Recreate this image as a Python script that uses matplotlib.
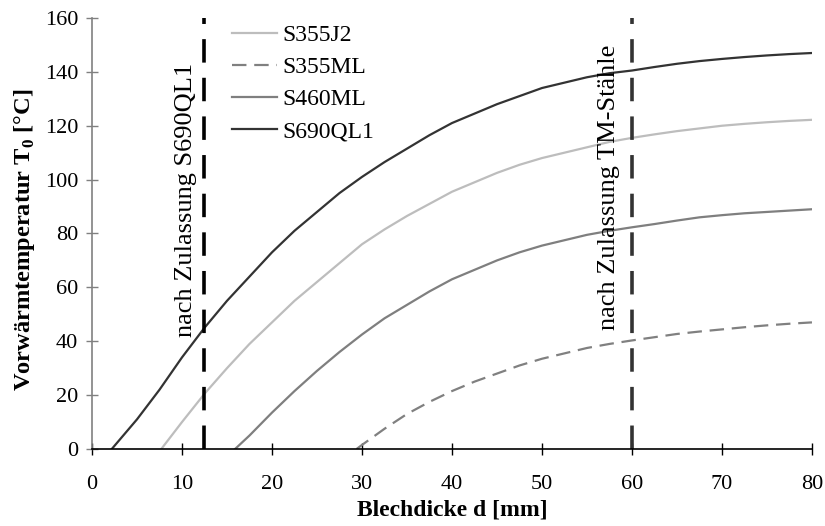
import matplotlib
matplotlib.use("Agg")
import matplotlib.pyplot as plt

plt.rcParams['font.family'] = ['Liberation Serif', 'DejaVu Serif']
plt.rcParams['mathtext.fontset'] = 'custom'
plt.rcParams['mathtext.rm'] = 'Liberation Serif'
plt.rcParams['mathtext.bf'] = 'Liberation Serif:bold'

# ---- data ----
x_s690 = [2.2, 5, 7.5, 10, 12.5, 15, 17.5, 20, 22.5, 25, 27.5, 30, 32.5, 35, 37.5, 40,
          42.5, 45, 47.5, 50, 52.5, 55, 57.5, 60, 62.5, 65, 67.5, 70, 72.5, 75, 77.5, 80]
y_s690 = [0, 11, 22, 34, 45, 55, 64, 73, 81, 88, 95, 101, 106.5, 111.5, 116.5, 121,
          124.5, 128, 131, 134, 136, 138, 139.5, 140.5, 141.8, 143, 144, 144.8, 145.5, 146.1, 146.6, 147]

x_s355j2 = [7.7, 10, 12.5, 15, 17.5, 20, 22.5, 25, 27.5, 30, 32.5, 35, 37.5, 40,
            42.5, 45, 47.5, 50, 52.5, 55, 57.5, 60, 62.5, 65, 67.5, 70, 72.5, 75, 77.5, 80]
y_s355j2 = [0, 10, 20.5, 30, 39, 47, 55, 62, 69, 76, 81.5, 86.5, 91, 95.5,
            99, 102.5, 105.5, 108, 110, 112, 114, 115.5, 116.8, 118, 119, 120, 120.7, 121.3, 121.8, 122.2]

x_s460 = [15.9, 17.5, 20, 22.5, 25, 27.5, 30, 32.5, 35, 37.5, 40, 42.5, 45, 47.5, 50,
          52.5, 55, 57.5, 60, 62.5, 65, 67.5, 70, 72.5, 75, 77.5, 80]
y_s460 = [0, 5, 13.5, 21.5, 29, 36, 42.5, 48.5, 53.5, 58.5, 63, 66.5, 70, 73, 75.5,
          77.5, 79.5, 81, 82.3, 83.5, 84.8, 86, 86.8, 87.5, 88, 88.5, 89]

x_s355ml = [29.4, 30, 32.5, 35, 37.5, 40, 42.5, 45, 47.5, 50, 52.5, 55, 57.5, 60,
            62.5, 65, 67.5, 70, 72.5, 75, 77.5, 80]
y_s355ml = [0, 1.5, 7.5, 13, 17.5, 21.5, 25, 28, 31, 33.5, 35.5, 37.5, 39, 40.3,
            41.5, 42.7, 43.6, 44.4, 45.2, 45.9, 46.5, 47]

limit_x = [12.5, 60]
limit_labels = ['nach Zulassung S690QL1', 'nach Zulassung TM-Stähle']

x_ticks = [0, 10, 20, 30, 40, 50, 60, 70, 80]
y_ticks = [0, 20, 40, 60, 80, 100, 120, 140, 160]

# ---- figure ----
fig = plt.figure(figsize=(8.25, 5.26), dpi=100)
ax = fig.add_axes([0.1115, 0.1464, 0.8727, 0.8194])

ax.plot(x_s355j2, y_s355j2, color='#bdbdbd', lw=1.6, label='S355J2')
ax.plot(x_s355ml, y_s355ml, color='#808080', lw=1.6, label='S355ML', dashes=(6.5, 3.5))
ax.plot(x_s460, y_s460, color='#7f7f7f', lw=1.6, label='S460ML')
ax.plot(x_s690, y_s690, color='#333333', lw=1.6, label='S690QL1')

ax.plot([limit_x[0], limit_x[0]], [0, 160], color='black', lw=2.6, dashes=(6.5, 4.2),
        solid_capstyle='butt', dash_capstyle='butt', clip_on=False)
ax.plot([limit_x[1], limit_x[1]], [0, 160], color='#333333', lw=2.6, dashes=(6.5, 4.2),
        solid_capstyle='butt', dash_capstyle='butt', clip_on=False)

ax.text(10.4, 92.5, limit_labels[0], rotation=90, ha='center', va='center', fontsize=19)
ax.text(57.4, 97, limit_labels[1], rotation=90, ha='center', va='center', fontsize=19)

ax.set_xlim(0, 80)
ax.set_ylim(0, 160)
ax.set_xticks(x_ticks)
ax.set_yticks(y_ticks)
ax.tick_params(axis='both', direction='inout', length=8, width=1, labelsize=16)
ax.tick_params(axis='x', pad=15, color='black')
ax.tick_params(axis='y', pad=6, color='#808080')

for s in ['top', 'right']:
    ax.spines[s].set_visible(False)
ax.spines['left'].set_color('#808080')
ax.spines['left'].set_linewidth(1.2)
ax.spines['bottom'].set_color('black')
ax.spines['bottom'].set_linewidth(1.2)

ax.set_xlabel('Blechdicke d [mm]', fontsize=17, fontweight='bold')
ax.set_ylabel(r'Vorwärmtemperatur T$_\mathbf{0}$ [°C]', fontsize=17.6, fontweight='bold')
ax.xaxis.set_label_coords(0.5, -0.118)
ax.yaxis.set_label_coords(-0.077, 0.485)

leg = ax.legend(loc='upper left', bbox_to_anchor=(0.195, 0.984), frameon=False,
                fontsize=17, handlelength=1.9, handletextpad=0.2, labelspacing=0.44,
                borderpad=0, borderaxespad=0)

fig.savefig('out.png', dpi=100)
